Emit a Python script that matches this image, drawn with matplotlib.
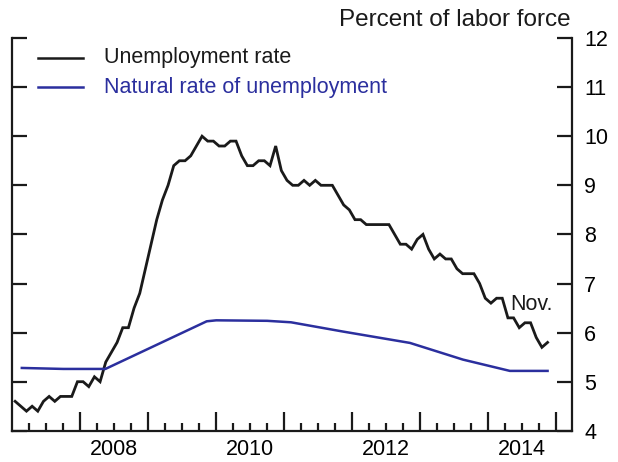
import numpy as np
import matplotlib.pyplot as plt

plt.rcParams['font.family'] = ['Liberation Sans', 'DejaVu Sans']

# unemployment rate, monthly, Jan 2007 - Nov 2014
unemp = [4.6, 4.5, 4.4, 4.5, 4.4, 4.6, 4.7, 4.6, 4.7, 4.7, 4.7, 5.0,
         5.0, 4.9, 5.1, 5.0, 5.4, 5.6, 5.8, 6.1, 6.1, 6.5, 6.8, 7.3,
         7.8, 8.3, 8.7, 9.0, 9.4, 9.5, 9.5, 9.6, 9.8, 10.0, 9.9, 9.9,
         9.8, 9.8, 9.9, 9.9, 9.6, 9.4, 9.4, 9.5, 9.5, 9.4, 9.8, 9.3,
         9.1, 9.0, 9.0, 9.1, 9.0, 9.1, 9.0, 9.0, 9.0, 8.8, 8.6, 8.5,
         8.3, 8.3, 8.2, 8.2, 8.2, 8.2, 8.2, 8.0, 7.8, 7.8, 7.7, 7.9,
         8.0, 7.7, 7.5, 7.6, 7.5, 7.5, 7.3, 7.2, 7.2, 7.2, 7.0, 6.7,
         6.6, 6.7, 6.7, 6.3, 6.3, 6.1, 6.2, 6.2, 5.9, 5.7, 5.8]
months = 2007 + (np.arange(len(unemp)) + 0.5) / 12.0

# natural rate
nat_x = [2007.14, 2007.75, 2008.37, 2009.86, 2010.0, 2010.75, 2011.1,
         2011.87, 2012.85, 2013.63, 2014.32, 2014.875]
nat_y = [5.28, 5.26, 5.26, 6.23, 6.25, 6.24, 6.21, 6.02, 5.79, 5.45, 5.22, 5.22]

years = list(range(2008, 2016))
year_labels = ['2008', '', '2010', '', '2012', '', '2014', '']

black = '#1a1a1a'
blue = '#2b2f9e'

fig = plt.figure(figsize=(6.18, 4.62), dpi=100)
ax = fig.add_axes([12.3/618, 1 - 430.8/462, (571.7-12.3)/618, (430.8-38)/462])

ax.plot(months, unemp, color=black, lw=2.0, solid_joinstyle='miter')
ax.plot(nat_x, nat_y, color=blue, lw=1.8)

ax.set_xlim(2007.0, 2015.23)
ax.set_ylim(4, 12)

for s in ['left', 'right', 'bottom']:
    ax.spines[s].set_linewidth(1.6)
    ax.spines[s].set_color(black)
ax.spines['top'].set_visible(False)

ax.set_yticks(range(4, 13))
ax.tick_params(axis='y', left=True, right=True, labelleft=False, labelright=True,
               direction='in', length=11, width=1.6, pad=9, labelsize=15.5, color=black)

quarters = [2007 + q / 4.0 for q in range(1, 33) if q % 4 != 0]
ax.set_xticks(years)
ax.set_xticklabels([])
ax.set_xticks(quarters, minor=True)
qlabels = []
for q in quarters:
    lab = ''
    if abs(q - round(q - 0.5) - 0.5) < 1e-6 and str(int(q)) in year_labels:
        lab = str(int(q))
    qlabels.append(lab)
ax.set_xticklabels(qlabels, minor=True)
ax.tick_params(axis='x', which='major', direction='in', length=14, width=1.6, color=black)
ax.tick_params(axis='x', which='minor', direction='in', length=6, width=1.6,
               pad=6, labelsize=15.5, color=black)

# legend
ax.plot([2007.38, 2008.04], [11.6, 11.6], color=black, lw=1.8)
ax.plot([2007.38, 2008.04], [11.0, 11.0], color=blue, lw=1.8)
ax.text(2008.35, 11.6, 'Unemployment rate', fontsize=15.5, va='center', color=black)
ax.text(2008.35, 11.0, 'Natural rate of unemployment', fontsize=15.5, va='center', color=blue)

ax.text(2014.33, 6.57, 'Nov.', fontsize=15.5, va='center', color=black)

fig.text(571/618, 1 - 20/462, 'Percent of labor force', fontsize=17.5,
         ha='right', va='center', color=black)

fig.savefig('out.png', dpi=100)
